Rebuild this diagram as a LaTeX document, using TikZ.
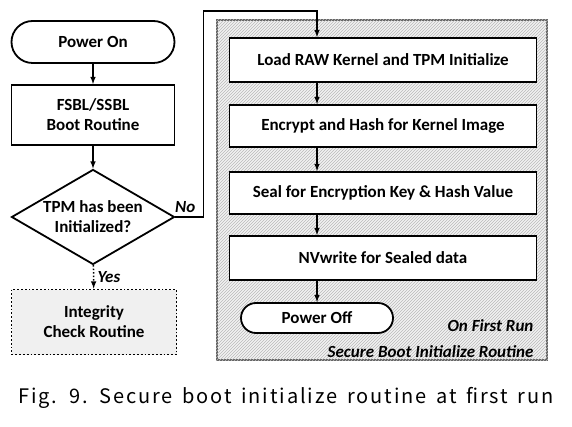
\documentclass[tikz,border=0pt]{standalone}
\usepackage{fontspec}
\setmainfont{Carlito}
\newfontfamily\capfont[LetterSpace=9.5,WordSpace=1.5]{Noto Sans CJK KR}
\usetikzlibrary{shapes.geometric,patterns}

\begin{document}
\begin{tikzpicture}[x=1pt,y=-1pt,>=latex]
    \tikzstyle{box}=[rectangle,draw,line width=1.8pt,fill=white,align=center,font=\bfseries\fontsize{17}{20}\selectfont]
    \tikzstyle{term}=[box,rounded corners=15pt]
    \tikzstyle{lbl}=[font=\bfseries\itshape\fontsize{17}{20}\selectfont]
    \useasboundingbox (0,0) rectangle (572,427);

      % first run area
      \node (G) at (382,190) [draw=gray!75!black,line width=1.8pt,fill=gray!10,minimum width=330pt,minimum height=340pt] {};
      \fill[pattern=north east lines,pattern color=gray!55] (G.south west) rectangle (G.north east);

      \node (P) at (93,42) [term,rounded corners=21pt,minimum width=163pt,minimum height=42pt] {Power On};
      \node (B) at (93,115) [box,minimum width=163pt,minimum height=60pt] {FSBL/SSBL\\Boot Routine};
      \node (Q) at (93,217) [box,diamond,aspect=1.75,minimum width=163pt,minimum height=95pt,inner sep=0pt] {TPM has been\\Initialized?};
      \node (I) at (94,322) [box,dotted,fill=gray!12,minimum width=165pt,minimum height=65pt] {Integrity\\Check Routine};

      \node (L) at (383,60) [box,minimum width=307pt,minimum height=44pt] {Load RAW Kernel and TPM Initialize};
      \node (E) at (383,126) [box,minimum width=307pt,minimum height=42pt] {Encrypt and Hash for Kernel Image};
      \node (S) at (383,193) [box,minimum width=307pt,minimum height=42pt] {Seal for Encryption Key \& Hash Value};
      \node (N) at (383,258) [box,minimum width=307pt,minimum height=44pt] {NVwrite for Sealed data};
      \node (O) at (317,318) [term,minimum width=152pt,minimum height=30pt] {Power Off};

      \node (R1) at (537,326) [lbl,anchor=east] {On First Run};
      \node (R2) at (537,352) [lbl,anchor=east] {Secure Boot Initialize Routine};

      \coordinate (c1) at (203,11);

      \path[->,draw,line width=1.5pt] (P) -- (B);
      \path[->,draw,line width=1.5pt] (B) -- (Q);
      \path[->,draw,line width=1.5pt,dotted] (Q) -- node[lbl,right] {Yes} (I);
      \path[draw,line width=1.5pt] (Q.east) -- node[lbl,above,pos=0.35] {No} ++(28,0) |- (c1);
      \path[->,draw,line width=1.5pt] (c1) -| (L.north -| O.center);
      \path[->,draw,line width=1.5pt] (L.south -| O.center) -- (E.north -| O.center);
      \path[->,draw,line width=1.5pt] (E.south -| O.center) -- (S.north -| O.center);
      \path[->,draw,line width=1.5pt] (S.south -| O.center) -- (N.north -| O.center);
      \path[->,draw,line width=1.5pt] (N.south -| O.center) -- (O);

      \node (F) at (286,398) [font=\capfont\fontsize{20}{22}\selectfont] {Fig. 9. Secure boot initialize routine at first run};
\end{tikzpicture}
\end{document}
